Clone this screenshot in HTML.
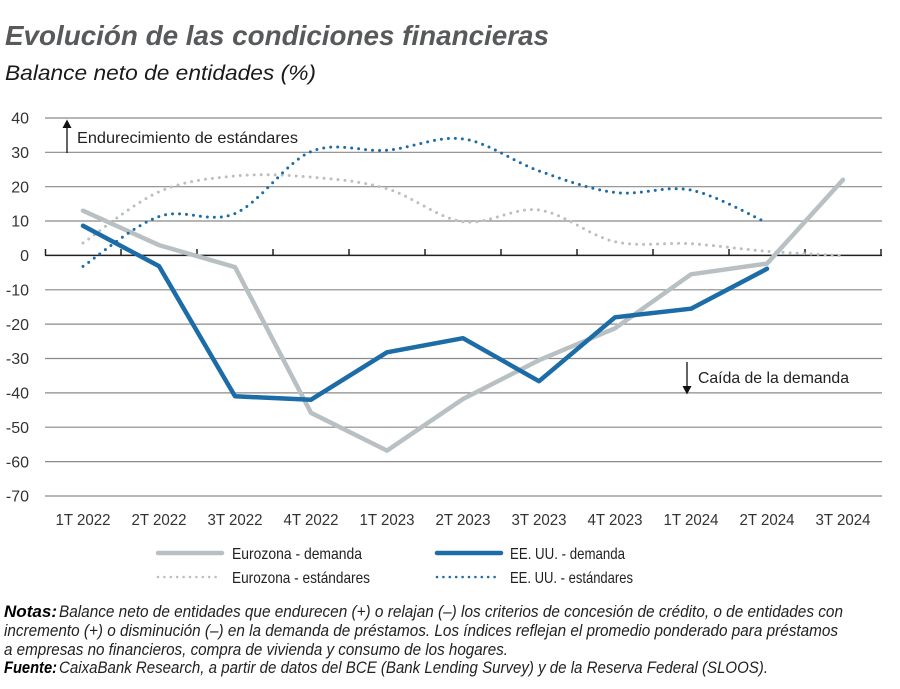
<!DOCTYPE html>
<html>
<head>
<meta charset="utf-8">
<style>
  html,body{margin:0;padding:0;background:#fff;}
  svg{display:block;}
  text{font-family:"Liberation Sans",sans-serif;}
</style>
</head>
<body>
<svg width="900" height="689" viewBox="0 0 900 689" xmlns="http://www.w3.org/2000/svg">
  <rect width="900" height="689" fill="#fff"/>

  <!-- Title -->
  <text x="5" y="45" font-size="28" font-weight="bold" font-style="italic" fill="#58595b" textLength="544" lengthAdjust="spacingAndGlyphs">Evolución de las condiciones financieras</text>
  <text x="5" y="80" font-size="21" font-style="italic" fill="#1a1a1a" textLength="311" lengthAdjust="spacingAndGlyphs">Balance neto de entidades (%)</text>

  <!-- Gridlines -->
  <g stroke="#8a8a8a" stroke-width="1.2">
    <line x1="45" x2="882" y1="118.0" y2="118.0"/>
    <line x1="45" x2="882" y1="152.3" y2="152.3"/>
    <line x1="45" x2="882" y1="186.7" y2="186.7"/>
    <line x1="45" x2="882" y1="221.0" y2="221.0"/>
    <line x1="45" x2="882" y1="289.8" y2="289.8"/>
    <line x1="45" x2="882" y1="324.1" y2="324.1"/>
    <line x1="45" x2="882" y1="358.5" y2="358.5"/>
    <line x1="45" x2="882" y1="392.9" y2="392.9"/>
    <line x1="45" x2="882" y1="427.2" y2="427.2"/>
    <line x1="45" x2="882" y1="461.6" y2="461.6"/>
    <line x1="45" x2="882" y1="496.0" y2="496.0"/>
  </g>
  <!-- Zero axis with ticks -->
  <g stroke="#222" stroke-width="1.5">
    <line x1="45" x2="882" y1="255.4" y2="255.4"/>
    <line x1="45.5" x2="45.5" y1="255.4" y2="249"/>
    <line x1="121" x2="121" y1="255.4" y2="249"/>
    <line x1="197" x2="197" y1="255.4" y2="249"/>
    <line x1="273" x2="273" y1="255.4" y2="249"/>
    <line x1="349" x2="349" y1="255.4" y2="249"/>
    <line x1="425" x2="425" y1="255.4" y2="249"/>
    <line x1="501" x2="501" y1="255.4" y2="249"/>
    <line x1="577" x2="577" y1="255.4" y2="249"/>
    <line x1="653" x2="653" y1="255.4" y2="249"/>
    <line x1="729" x2="729" y1="255.4" y2="249"/>
    <line x1="805" x2="805" y1="255.4" y2="249"/>
    <line x1="881" x2="881" y1="255.4" y2="249"/>
  </g>

  <!-- Y labels -->
  <g font-size="16" fill="#333" text-anchor="end">
    <text x="29" y="123.7">40</text>
    <text x="29" y="158.0">30</text>
    <text x="29" y="192.4">20</text>
    <text x="29" y="226.7">10</text>
    <text x="29" y="261.1">0</text>
    <text x="29" y="295.5">-10</text>
    <text x="29" y="329.8">-20</text>
    <text x="29" y="364.2">-30</text>
    <text x="29" y="398.6">-40</text>
    <text x="29" y="432.9">-50</text>
    <text x="29" y="467.3">-60</text>
    <text x="29" y="501.7">-70</text>
  </g>

  <!-- X labels -->
  <g font-size="16" fill="#333">
    <text x="55.5" y="525" textLength="55" lengthAdjust="spacingAndGlyphs">1T 2022</text>
    <text x="131.5" y="525" textLength="55" lengthAdjust="spacingAndGlyphs">2T 2022</text>
    <text x="207.5" y="525" textLength="55" lengthAdjust="spacingAndGlyphs">3T 2022</text>
    <text x="283.5" y="525" textLength="55" lengthAdjust="spacingAndGlyphs">4T 2022</text>
    <text x="359.5" y="525" textLength="55" lengthAdjust="spacingAndGlyphs">1T 2023</text>
    <text x="435.5" y="525" textLength="55" lengthAdjust="spacingAndGlyphs">2T 2023</text>
    <text x="511.5" y="525" textLength="55" lengthAdjust="spacingAndGlyphs">3T 2023</text>
    <text x="587.5" y="525" textLength="55" lengthAdjust="spacingAndGlyphs">4T 2023</text>
    <text x="663.5" y="525" textLength="55" lengthAdjust="spacingAndGlyphs">1T 2024</text>
    <text x="739.5" y="525" textLength="55" lengthAdjust="spacingAndGlyphs">2T 2024</text>
    <text x="815.5" y="525" textLength="55" lengthAdjust="spacingAndGlyphs">3T 2024</text>
  </g>

  <!-- Annotations -->
  <line x1="67" y1="153" x2="67" y2="127" stroke="#111" stroke-width="1.3"/>
  <polygon points="62.5,128 71.5,128 67,119.5" fill="#111"/>
  <text x="77" y="143" font-size="16" fill="#222" textLength="221" lengthAdjust="spacingAndGlyphs">Endurecimiento de estándares</text>

  <line x1="687" y1="362" x2="687" y2="387" stroke="#111" stroke-width="1.3"/>
  <polygon points="682.5,386 691.5,386 687,394.5" fill="#111"/>
  <text x="698" y="383" font-size="16" fill="#222" textLength="151" lengthAdjust="spacingAndGlyphs">Caída de la demanda</text>

  <!-- Eurozona estándares (gray dotted, smoothed) -->
  <path fill="none" stroke="#b9c0c3" stroke-width="3" stroke-linecap="round" stroke-dasharray="0 7"
    d="M83,243.0 C95.67,234.47 133.67,202.97 159,191.8
       C184.33,180.63 209.67,178.45 235,176.0
       C260.33,173.55 285.67,174.98 311,177.1
       C336.33,179.22 361.67,181.27 387,188.7
       C412.33,196.13 437.67,218.15 463,221.7
       C488.33,225.25 513.67,206.67 539,210.0
       C564.33,213.33 589.67,236.08 615,241.7
       C640.33,247.32 665.67,242.1 691,243.7
       C716.33,245.3 741.67,249.3 767,251.3
       C792.33,253.3 830.33,254.97 843,255.7"/>

  <!-- Eurozona demanda (gray solid) -->
  <polyline fill="none" stroke="#b9c0c3" stroke-width="4.5" stroke-linejoin="round" stroke-linecap="round"
    points="83,210.7 159,245.1 235,267.1 311,412.8 387,450.6 463,399.0 539,360.2 615,328.3 691,274.3 767,263.6 843,179.8"/>

  <!-- EE.UU. demanda (blue solid) -->
  <polyline fill="none" stroke="#1c6ca8" stroke-width="4.5" stroke-linejoin="round" stroke-linecap="round"
    points="83,225.8 159,266.1 235,396.3 311,399.7 387,352.3 463,338.2 539,381.2 615,317.3 691,308.7 767,268.8"/>

  <!-- EE.UU. estándares (blue dotted, smoothed) -->
  <path fill="none" stroke="#1c6ca8" stroke-width="3" stroke-linecap="round" stroke-dasharray="0 7"
    d="M83,266.4 C95.67,258.08 133.67,225.32 159,216.5
       C184.33,207.68 209.67,224.32 235,213.5
       C260.33,202.68 285.67,162.15 311,151.6
       C336.33,141.05 361.67,152.32 387,150.2
       C412.33,148.08 437.67,135.45 463,138.9
       C488.33,142.35 513.67,161.97 539,170.9
       C564.33,179.83 589.67,189.3 615,192.5
       C640.33,195.7 665.67,185.05 691,190.1
       C716.33,195.15 754.33,217.35 767,222.8"/>

  <!-- Legend -->
  <line x1="158" y1="553" x2="222" y2="553" stroke="#b9c0c3" stroke-width="4.5" stroke-linecap="round"/>
  <line x1="158" y1="577" x2="222" y2="577" stroke="#b9c0c3" stroke-width="2.6" stroke-linecap="round" stroke-dasharray="0 6.4"/>
  <line x1="437" y1="553" x2="501" y2="553" stroke="#1c6ca8" stroke-width="4.5" stroke-linecap="round"/>
  <line x1="437" y1="577" x2="501" y2="577" stroke="#1c6ca8" stroke-width="2.6" stroke-linecap="round" stroke-dasharray="0 6.4"/>
  <g font-size="16" fill="#222">
    <text x="232" y="559" textLength="130" lengthAdjust="spacingAndGlyphs">Eurozona - demanda</text>
    <text x="232" y="583" textLength="138" lengthAdjust="spacingAndGlyphs">Eurozona - estándares</text>
    <text x="510" y="559" textLength="115" lengthAdjust="spacingAndGlyphs">EE. UU. - demanda</text>
    <text x="510" y="583" textLength="123" lengthAdjust="spacingAndGlyphs">EE. UU. - estándares</text>
  </g>

  <!-- Notes -->
  <g font-size="17" font-style="italic" fill="#222">
    <text x="4" y="617" font-weight="bold" fill="#000" textLength="53" lengthAdjust="spacingAndGlyphs">Notas:</text>
    <text x="59" y="617" textLength="784" lengthAdjust="spacingAndGlyphs">Balance neto de entidades que endurecen (+) o relajan (–) los criterios de concesión de crédito, o de entidades con</text>
    <text x="4" y="636" textLength="834" lengthAdjust="spacingAndGlyphs">incremento (+) o disminución (–) en la demanda de préstamos. Los índices reflejan el promedio ponderado para préstamos</text>
    <text x="4" y="655" textLength="504" lengthAdjust="spacingAndGlyphs">a empresas no financieros, compra de vivienda y consumo de los hogares.</text>
    <text x="4" y="673" font-weight="bold" fill="#000" textLength="53" lengthAdjust="spacingAndGlyphs">Fuente:</text>
    <text x="59" y="673" textLength="709" lengthAdjust="spacingAndGlyphs">CaixaBank Research, a partir de datos del BCE (Bank Lending Survey) y de la Reserva Federal (SLOOS).</text>
  </g>
</svg>
</body>
</html>
